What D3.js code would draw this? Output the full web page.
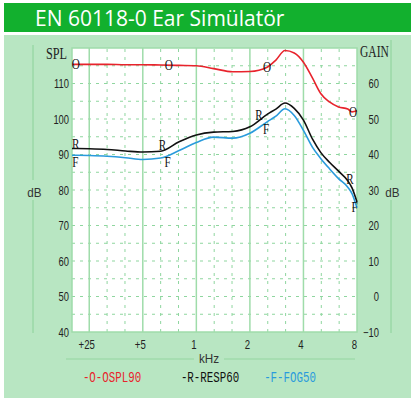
<!DOCTYPE html>
<html lang="en">
<head>
<meta charset="UTF-8" />
<title>EN 60118-0 Ear Simülatör</title>
<style>
  body { margin: 0; background: #fff; }
  text { font-family: "Liberation Sans", Arial, sans-serif; }
</style>
</head>
<body>
<div id="main"></div>
<script src="https://cdn.jsdelivr.net/npm/d3@7"></script>
<script>
// frequencies in kHz, values in dB SPL
const freqs = [0.2, 0.25, 0.315, 0.4, 0.5, 0.63, 0.8, 1.0, 1.25, 1.6, 2.0, 2.5, 2.8, 3.15, 3.55, 4.0, 4.5, 5.0, 5.6, 6.3, 7.1, 7.5, 8.0]
const ospl90 = [115.4, 115.4, 115.4, 115.3, 115.3, 115.2, 115.1, 115.0, 114.2, 113.3, 113.4, 114.6, 116.6, 119.3, 118.6, 116.0, 111.5, 107.2, 104.8, 103.4, 102.8, 102.0, 102.3]
const resp60 = [91.7, 91.6, 91.4, 91.0, 90.7, 90.9, 93.6, 95.5, 96.3, 96.5, 97.8, 101.3, 102.8, 104.5, 103.0, 99.7, 94.3, 90.6, 87.8, 85.3, 82.6, 80.6, 76.6]
const fog50 = [89.8, 89.7, 89.5, 89.1, 88.6, 89.0, 91.1, 93.4, 94.9, 94.6, 96.0, 99.2, 100.8, 102.9, 101.0, 96.8, 92.0, 88.9, 86.0, 83.2, 80.8, 79.0, 75.0]

const xTicks = [0.25, 0.5, 1, 2, 4, 8]
const xTickLabels = ['+25', '+5', '1', '2', '4', '8']
const xMinor = [0.315, 0.397, 0.63, 0.794, 1.26, 1.587, 2.52, 3.175, 5.04, 6.35]
const splTicks = [40, 50, 60, 70, 80, 90, 100, 110]
const gainTicks = [-10, 0, 10, 20, 30, 40, 50, 60]

const series = [
  { name: 'OSPL90', mark: 'O', color: '#e8232c', values: ospl90, marks: [0.21, 0.7, 2.5, 7.6] },
  { name: 'RESP60', mark: 'R', color: '#111111', values: resp60, marks: [0.21, 0.645, 2.25, 7.3] },
  { name: 'FOG50', mark: 'F', color: '#2a9bdc', values: fog50, marks: [0.209, 0.69, 2.47, 7.75] }
]

const [width, height] = [415, 400]
const gridColor = '#9fdcaa'
const svg = d3.select('#main').append('svg')
  .attr('width', width).attr('height', height)
  .attr('viewBox', `0 0 ${width} ${height}`)

// background panel + title bar
svg.append('rect').attr('x', 4).attr('y', 35).attr('width', 407).attr('height', 363).attr('fill', '#b8e6c2')
svg.append('rect').attr('x', 4).attr('y', 3).attr('width', 407).attr('height', 29).attr('fill', '#12b02e')
svg.append('text').attr('x', 35).attr('y', 26)
  .style('font-family', '"Open Sans", "Noto Sans", sans-serif')
  .style('font-size', '21px').attr('fill', '#fff')
  .text('EN 60118-0 Ear Simülatör')

const x = d3.scaleLog().domain([0.2, 8]).range([72, 357])
const y = d3.scaleLinear().domain([40, 120]).range([332, 48])
const yGain = d3.scaleLinear().domain([-10, 70]).range([332, 48])

// plot area
svg.append('rect').attr('x', x.range()[0]).attr('y', y.range()[1])
  .attr('width', x.range()[1] - x.range()[0]).attr('height', y.range()[0] - y.range()[1])
  .attr('fill', '#fff')

const grid = svg.append('g')
grid.selectAll('.hg').data(y.ticks(16).filter(v => v > 40 && v < 120)).join('line')
  .attr('x1', x.range()[0]).attr('x2', x.range()[1])
  .attr('y1', d => y(d)).attr('y2', d => y(d))
  .attr('stroke', '#8fd69f').attr('stroke-dasharray', '3,5')
grid.selectAll('.vm').data(xMinor).join('line')
  .attr('x1', d => x(d)).attr('x2', d => x(d))
  .attr('y1', y.range()[0]).attr('y2', y.range()[1])
  .attr('stroke', '#8fd69f').attr('stroke-dasharray', '3,5')
grid.selectAll('.vM').data(xTicks.slice(0, -1)).join('line')
  .attr('x1', d => x(d)).attr('x2', d => x(d))
  .attr('y1', y.range()[0]).attr('y2', y.range()[1])
  .attr('stroke', gridColor).attr('stroke-width', 1.5)
svg.append('rect').attr('x', x.range()[0]).attr('y', y.range()[1])
  .attr('width', x.range()[1] - x.range()[0]).attr('height', y.range()[0] - y.range()[1])
  .attr('fill', 'none').attr('stroke', gridColor).attr('stroke-width', 1.5)

// condensed text helper
const squeeze = (sel, sx) => sel.each(function () {
  const t = d3.select(this)
  const tx = +t.attr('x') || 0
  t.attr('x', 0).attr('transform', `translate(${tx},0) scale(${sx},1)`)
})

// axes
const tickFont = (g, anchor) => {
  g.select('.domain').remove()
  g.selectAll('.tick line').remove()
  g.selectAll('text').style('font-size', '12.5px').attr('fill', '#222')
    .style('font-family', '"Liberation Sans", sans-serif').attr('text-anchor', anchor)
}
svg.append('g').attr('transform', 'translate(69,0)')
  .call(d3.axisLeft(y).tickValues(splTicks).tickSize(0).tickPadding(0))
  .call(g => tickFont(g, 'end'))
  .selectAll('text').call(squeeze, 0.75)
svg.append('g').attr('transform', 'translate(379,0)')
  .call(d3.axisLeft(yGain).tickValues(gainTicks).tickSize(0).tickPadding(0))
  .call(g => tickFont(g, 'end'))
  .selectAll('text').call(squeeze, 0.75)
svg.append('g').attr('transform', 'translate(-3,340)')
  .call(d3.axisBottom(x).tickValues(xTicks).tickFormat((d, i) => xTickLabels[i]).tickSize(0).tickPadding(0))
  .call(g => tickFont(g, 'middle'))
  .selectAll('text').attr('dy', '0.71em').style('font-size', '12px').call(squeeze, 0.8)

// side lines and titles
const side = svg.append('g').attr('stroke', '#93d5a0').attr('stroke-width', 1.2)
side.append('line').attr('x1', 33).attr('x2', 33).attr('y1', 45).attr('y2', 180)
side.append('line').attr('x1', 33).attr('x2', 33).attr('y1', 200).attr('y2', 333)
side.append('line').attr('x1', 391).attr('x2', 391).attr('y1', 40).attr('y2', 180)
side.append('line').attr('x1', 391).attr('x2', 391).attr('y1', 200).attr('y2', 333)
side.append('line').attr('x1', 66).attr('x2', 194).attr('y1', 359).attr('y2', 359)
side.append('line').attr('x1', 224).attr('x2', 355).attr('y1', 359).attr('y2', 359)

const label = (txt, px, py, size, sx, anchor, fam, fill) =>
  svg.append('text').attr('transform', `translate(${px},${py}) scale(${sx},1)`)
    .attr('text-anchor', anchor).style('font-size', size + 'px')
    .style('font-family', fam).attr('fill', fill || '#222').text(txt)

const serif = '"Liberation Serif", serif'
const sans = '"Liberation Sans", sans-serif'
label('SPL', 67, 59, 17, 0.72, 'end', serif)
label('GAIN', 360, 57, 16.5, 0.7, 'start', serif)
label('dB', 34.5, 197, 13, 0.9, 'middle', sans, '#333')
label('dB', 392.5, 197, 13, 0.9, 'middle', sans, '#333')
label('kHz', 209, 363, 13, 0.9, 'middle', sans, '#333')

// curves
const line = d3.line().x(d => x(d[0])).y(d => y(d[1])).curve(d3.curveMonotoneX)
svg.append('g').selectAll('path').data(series).join('path')
  .attr('d', s => line(freqs.map((f, i) => [f, s.values[i]])))
  .attr('fill', 'none').attr('stroke', s => s.color).attr('stroke-width', 1.6)

// markers on curves
const valueAt = (s, f) => {
  const i = d3.bisectLeft(freqs, f)
  if (i <= 0) return s.values[0]
  const t = (Math.log(f) - Math.log(freqs[i - 1])) / (Math.log(freqs[i]) - Math.log(freqs[i - 1]))
  return s.values[i - 1] + t * (s.values[i] - s.values[i - 1])
}
const markOffset = { O: 5, R: 0, F: 11.5 }
series.forEach(s => {
  s.marks.forEach(f => {
    label(s.mark, x(f), y(valueAt(s, f)) + markOffset[s.mark], 15.5, 0.72, 'middle', serif, '#111')
  })
})

// legend
const mono = '"Liberation Mono", monospace'
const legendX = [112, 210, 290]
series.forEach((s, i) => {
  label(`-${s.mark}-${s.name}`, legendX[i], 382, 15, 0.72, 'middle', mono, s.color)
})
</script>
</body>
</html>
